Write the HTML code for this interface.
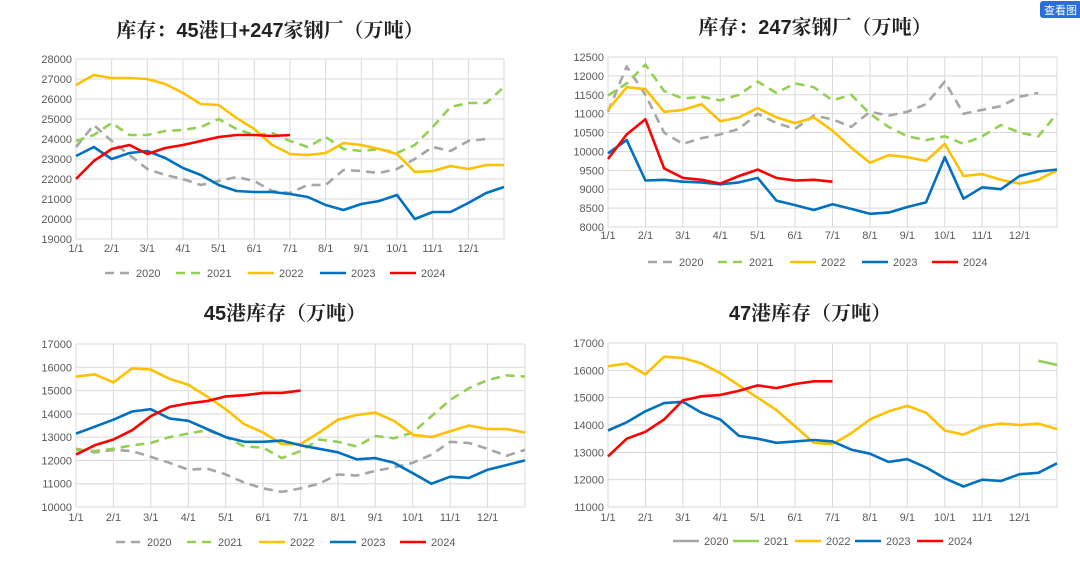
<!DOCTYPE html>
<html><head><meta charset="utf-8"><style>
html,body{margin:0;padding:0;background:#fff;width:1080px;height:565px;overflow:hidden}
svg{display:block}
.t{font-family:"Liberation Sans","Noto Serif CJK SC",serif;font-weight:bold;font-size:20px;fill:#222}
.tk{font-family:"Liberation Sans",sans-serif;font-size:11px;fill:#595959}
.lg{font-family:"Liberation Sans",sans-serif;font-size:11px;fill:#595959}
</style></head><body>
<svg id="root" width="1080" height="565" viewBox="0 0 1080 565">
<rect x="1040" y="1" width="42" height="17" rx="3" fill="#2a6fd9"/>
<text x="1044" y="14" font-size="11" fill="#fff" font-family="'Liberation Sans','Noto Sans CJK SC',sans-serif">查看图</text>
</svg>
<script>
// shared categories: half-month steps starting Jan 1
const monthLabels = ["1/1","2/1","3/1","4/1","5/1","6/1","7/1","8/1","9/1","10/1","11/1","12/1"];
const years = ["2020","2021","2022","2023","2024"];

// Chart 1: 45 ports + 247 mills
const c1_2020 = [23600,24700,23900,23200,22500,22200,22000,21700,21900,22100,21900,21400,21300,21700,21700,22450,22400,22300,22500,23000,23600,23400,23900,24000,null];
const c1_2021 = [23900,24200,24800,24200,24200,24400,24450,24600,25000,24500,24200,24300,23900,23600,24100,23500,23400,23500,23300,23700,24600,25600,25800,25800,26600];
const c1_2022 = [26700,27200,27050,27050,27000,26750,26300,25750,25700,25050,24500,23700,23250,23200,23300,23800,23700,23500,23250,22350,22400,22650,22500,22700,22700];
const c1_2023 = [23150,23600,23000,23300,23400,23050,22550,22200,21700,21400,21350,21350,21250,21100,20700,20450,20750,20900,21200,20000,20350,20350,20800,21300,21600];
const c1_2024 = [22000,22900,23500,23700,23250,23550,23700,23900,24100,24200,24200,24150,24200];

// Chart 2: 247 mills
const c2_2020 = [11050,12250,11500,10500,10200,10350,10450,10600,11000,10750,10600,10950,10850,10650,11050,10950,11050,11250,11850,11000,11100,11200,11450,11550,null];
const c2_2021 = [11480,11800,12300,11600,11400,11450,11350,11500,11850,11550,11800,11700,11350,11500,11000,10650,10400,10300,10400,10200,10400,10700,10500,10400,11000];
const c2_2022 = [11100,11700,11650,11050,11100,11250,10800,10900,11150,10900,10750,10900,10550,10100,9700,9900,9850,9750,10200,9350,9400,9250,9150,9250,9500];
const c2_2023 = [9950,10300,9230,9250,9200,9180,9130,9180,9300,8700,8580,8450,8600,8480,8350,8380,8530,8650,9850,8750,9050,9000,9350,9470,9520];
const c2_2024 = [9800,10450,10850,9550,9300,9250,9150,9350,9520,9300,9230,9250,9200];

// Chart 3: 45 ports
const c3_2020 = [12500,12350,12450,12400,12150,11900,11600,11650,11400,11050,10800,10650,10800,11000,11400,11350,11550,11700,11900,12250,12800,12750,12500,12200,12450];
const c3_2021 = [12450,12400,12500,12650,12750,13000,13150,13300,13000,12600,12550,12100,12400,12900,12800,12600,13050,12950,13200,13900,14600,15100,15450,15650,15600];
const c3_2022 = [15600,15700,15350,15950,15900,15500,15250,14750,14200,13550,13200,12700,12700,13200,13750,13950,14050,13700,13100,13000,13250,13500,13350,13350,13200];
const c3_2023 = [13150,13450,13750,14100,14200,13800,13700,13350,13000,12800,12800,12850,12650,12500,12350,12050,12100,11900,11450,11000,11300,11250,11600,11800,12000];
const c3_2024 = [12250,12650,12900,13300,13900,14300,14450,14550,14750,14800,14900,14900,15000];

// Chart 4: 47 ports
const c4_2020 = [];
const c4_2021 = [null,null,null,null,null,null,null,null,null,null,null,null,null,null,null,null,null,null,null,null,null,null,null,16350,16200];
const c4_2022 = [16150,16250,15850,16500,16450,16250,15900,15450,15000,14550,13950,13350,13300,13700,14200,14500,14700,14450,13800,13650,13950,14050,14000,14050,13850];
const c4_2023 = [13800,14100,14500,14800,14850,14450,14200,13600,13500,13350,13400,13450,13400,13100,12950,12650,12750,12450,12050,11750,12000,11950,12200,12250,12600];
const c4_2024 = [12850,13500,13750,14200,14900,15050,15100,15250,15450,15350,15500,15600,15600];

const colors = ["#a6a6a6","#92d050","#ffc000","#0070c0","#ff0000"];
const NS = "http://www.w3.org/2000/svg";
const root = document.getElementById("root");

function mk(tag, attrs, parent){
  const e = document.createElementNS(NS, tag);
  for (const k in attrs) e.setAttribute(k, attrs[k]);
  (parent||root).appendChild(e);
  return e;
}

const charts = [
  {id:"c1", title:"库存：45港口+247家钢厂（万吨）", tx:270, ty:37, x0:76, x1:504, yTop:59, yBot:239, vMax:28000, vMin:19000, step:1000, xl:252, ly:273, lx:[105,176,248,320,390], dash:[true,true,false,false,false], series:[c1_2020,c1_2021,c1_2022,c1_2023,c1_2024]},
  {id:"c2", title:"库存：247家钢厂（万吨）", tx:815, ty:34, x0:608, x1:1057, yTop:57, yBot:227, vMax:12500, vMin:8000, step:500, xl:239, ly:262, lx:[648,718,790,862,932], dash:[true,true,false,false,false], series:[c2_2020,c2_2021,c2_2022,c2_2023,c2_2024]},
  {id:"c3", title:"45港库存（万吨）", tx:285, ty:320, x0:76, x1:525, yTop:344, yBot:507, vMax:17000, vMin:10000, step:1000, xl:521, ly:542, lx:[116,187,259,330,400], dash:[true,true,false,false,false], series:[c3_2020,c3_2021,c3_2022,c3_2023,c3_2024]},
  {id:"c4", title:"47港库存（万吨）", tx:810, ty:320, x0:608, x1:1057, yTop:343, yBot:507, vMax:17000, vMin:11000, step:1000, xl:521, ly:541, lx:[673,733,795,855,917], dash:[false,false,false,false,false], series:[c4_2020,c4_2021,c4_2022,c4_2023,c4_2024]}
];

charts.forEach(function(c){
  const g = mk("g", {});
  
  
  const xs = m => c.x0 + (c.x1 - c.x0) * m / 12;
  const ys = v => c.yTop + (c.vMax - v) * (c.yBot - c.yTop) / (c.vMax - c.vMin);

  const t = mk("text", {x:c.tx, y:c.ty, "text-anchor":"middle", class:"t"}, g);
  t.textContent = c.title;
  
  

  for (let v = c.vMin; v <= c.vMax; v += c.step){
    const y = ys(v);
    const gl = mk("line", {x1:c.x0, x2:c.x1, y1:y, y2:y, stroke:"#d9d9d9", "stroke-width":1}, g);
    
    
    const tl = mk("text", {x:c.x0-4, y:y+4, "text-anchor":"end", class:"tk"}, g);
    tl.textContent = v;
    
    
  }
  for (let m = 0; m <= 12; m++){
    const x = xs(m);
    const vl = mk("line", {x1:x, x2:x, y1:c.yTop, y2:c.yBot, stroke:"#d9d9d9", "stroke-width":1}, g);
    
    
    if (m < 12){
      const xl = mk("text", {x:x, y:c.xl, "text-anchor":"middle", class:"tk"}, g);
      xl.textContent = monthLabels[m];
      
      
    }
  }
  c.series.forEach(function(arr, i){
    let d = "", pen = false;
    arr.forEach(function(v, k){
      if (v === null || v === undefined){ pen = false; return; }
      d += (pen ? "L" : "M") + xs(k*0.5).toFixed(1) + " " + ys(v).toFixed(1) + " ";
      pen = true;
    });
    if (d){
      const p = mk("path", {d:d, fill:"none", stroke:colors[i], "stroke-width":2.6, "stroke-linejoin":"round"}, g);
      if (c.dash[i]) p.setAttribute("stroke-dasharray", "9 6");
      
      
    }
    const lx = c.lx[i];
    const ll = mk("line", {x1:lx, x2:lx+26, y1:c.ly, y2:c.ly, stroke:colors[i], "stroke-width":2.6}, g);
    if (c.dash[i]) ll.setAttribute("stroke-dasharray", "9 6");
    
    
    const lt = mk("text", {x:lx+31, y:c.ly+4, class:"lg"}, g);
    lt.textContent = years[i];
    
    
  });
});
</script>
</body></html>
